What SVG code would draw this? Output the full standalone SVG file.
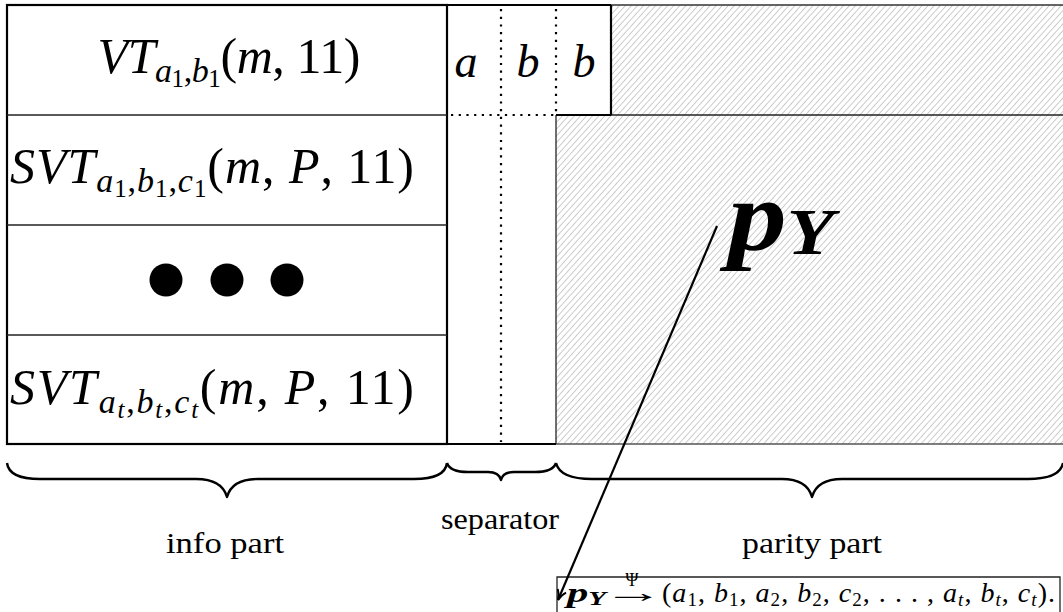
<svg xmlns="http://www.w3.org/2000/svg" width="1063" height="612" viewBox="0 0 1063 612">
<style>
.m{font-family:"Liberation Serif","Times New Roman",serif;fill:#000}
.i{font-style:italic}
.bi{font-style:italic;font-weight:bold}
.thick{stroke:#000;stroke-width:2.2;fill:none}
.thin{stroke:#222;stroke-width:1.3;fill:none}
.dot{stroke:#000;stroke-width:2.2;stroke-dasharray:2.2 5.5;fill:none}
.brace{stroke:#000;stroke-width:2.4;fill:none;stroke-linejoin:round}
.lbl{font-family:"Liberation Serif","Times New Roman",serif;font-size:30px;fill:#000;text-anchor:middle}
</style>
<defs>
<pattern id="hatch" patternUnits="userSpaceOnUse" width="4.5" height="8" patternTransform="rotate(42)">
<line x1="0" y1="-1" x2="0" y2="9" stroke="#9a9a9a" stroke-width="1"/>
</pattern>
<marker id="arr" viewBox="0 0 12 12" refX="11" refY="6" markerWidth="12" markerHeight="12" markerUnits="userSpaceOnUse" orient="auto">
<path d="M1,1.5 Q5,5 11,6 Q5,7 1,10.5" fill="none" stroke="#000" stroke-width="2"/>
</marker>
</defs>
<rect width="1063" height="612" fill="#fff"/>

<g id="parity-region">
<path d="M611,5 H1063 V115 H611 Z M556,115 H1063 V444 H556 Z" fill="url(#hatch)"/>
<line x1="611" y1="5" x2="1063" y2="5" stroke="#333" stroke-width="1.5"/>
<line x1="556" y1="115" x2="1063" y2="115" class="thin"/>
<line x1="556" y1="444" x2="1063" y2="444" stroke="#555" stroke-width="1.5"/>
<line x1="556" y1="115" x2="556" y2="444" class="thin"/>
</g>

<g id="info-part">
<rect x="7" y="5" width="440" height="439" class="thick"/>
<line x1="7" y1="115" x2="447" y2="115" class="thin"/>
<line x1="7" y1="225" x2="447" y2="225" class="thin"/>
<line x1="7" y1="335" x2="447" y2="335" class="thin"/>
</g>

<g id="row-vt">
<text class="m" x="229" y="73" text-anchor="middle" font-size="50" textLength="263" lengthAdjust="spacing"><tspan class="i">VT</tspan><tspan class="i" font-size="34" dy="9">a</tspan><tspan font-size="25" dy="5">1</tspan><tspan font-size="34" dy="-5">,</tspan><tspan class="i" font-size="34">b</tspan><tspan font-size="25" dy="5">1</tspan><tspan dy="-14">(</tspan><tspan class="i">m</tspan><tspan>, 11)</tspan></text>
</g>

<g id="row-svt1">
<text class="m" x="212" y="183" text-anchor="middle" font-size="50" textLength="404" lengthAdjust="spacing"><tspan class="i">SVT</tspan><tspan class="i" font-size="34" dy="9">a</tspan><tspan font-size="25" dy="5">1</tspan><tspan font-size="34" dy="-5">,</tspan><tspan class="i" font-size="34">b</tspan><tspan font-size="25" dy="5">1</tspan><tspan font-size="34" dy="-5">,</tspan><tspan class="i" font-size="34">c</tspan><tspan font-size="25" dy="5">1</tspan><tspan dy="-14">(</tspan><tspan class="i">m</tspan><tspan>, </tspan><tspan class="i">P</tspan><tspan>, 11)</tspan></text>
</g>

<g id="row-dots">
<circle cx="166" cy="280" r="16.5" fill="#000"/>
<circle cx="227" cy="280" r="16.5" fill="#000"/>
<circle cx="287" cy="280" r="16.5" fill="#000"/>
</g>

<g id="row-svtt">
<text class="m" x="212" y="404" text-anchor="middle" font-size="50" textLength="404" lengthAdjust="spacing"><tspan class="i">SVT</tspan><tspan class="i" font-size="34" dy="9">a</tspan><tspan class="i" font-size="25" dy="5">t</tspan><tspan font-size="34" dy="-5">,</tspan><tspan class="i" font-size="34">b</tspan><tspan class="i" font-size="25" dy="5">t</tspan><tspan font-size="34" dy="-5">,</tspan><tspan class="i" font-size="34">c</tspan><tspan class="i" font-size="25" dy="5">t</tspan><tspan dy="-14">(</tspan><tspan class="i">m</tspan><tspan>, </tspan><tspan class="i">P</tspan><tspan>, 11)</tspan></text>
</g>

<g id="separator">
<line x1="447" y1="5" x2="611" y2="5" class="thick"/>
<line x1="611" y1="5" x2="611" y2="115" class="thick"/>
<line x1="556" y1="115" x2="611" y2="115" class="thick"/>
<line x1="447" y1="444" x2="556" y2="444" class="thick"/>
<line x1="501" y1="9" x2="501" y2="442" class="dot"/>
<line x1="556" y1="9" x2="556" y2="113" class="dot"/>
<line x1="451" y1="115" x2="556" y2="115" class="dot"/>
<text class="m i" x="466" y="77" text-anchor="middle" font-size="46">a</text>
<text class="m i" x="528" y="77" text-anchor="middle" font-size="46">b</text>
<text class="m i" x="584" y="77" text-anchor="middle" font-size="46">b</text>
</g>

<g id="py-label">
<text class="m bi" x="728" y="250" font-size="100" textLength="106" lengthAdjust="spacingAndGlyphs">p<tspan font-size="66" dy="4">Y</tspan></text>
</g>

<g id="braces">
<path class="brace" d="M7,463 Q9,479 40,479 L196,479 Q222,479 227,497 Q232,479 258,479 L414,479 Q445,479 447,463"/>
<path class="brace" d="M447,463 Q450,472 468,472 L488,472 Q499,472 501,480 Q503,472 514,472 L535,472 Q553,472 556,463"/>
<path class="brace" d="M556,463 Q560,479 592,479 L782,479 Q807,479 812,497 Q817,479 842,479 L1028,479 Q1060,479 1063,463"/>
<text class="lbl" x="225" y="553" textLength="118" lengthAdjust="spacingAndGlyphs">info part</text>
<text class="lbl" x="500" y="529" textLength="118" lengthAdjust="spacingAndGlyphs">separator</text>
<text class="lbl" x="812" y="553" textLength="140" lengthAdjust="spacingAndGlyphs">parity part</text>
</g>

<g id="mapping-box">
<path d="M557,612 V577 H1060 V612" fill="none" stroke="#222" stroke-width="1.3"/>
<text class="m" x="567" y="602" font-size="28" textLength="39" lengthAdjust="spacingAndGlyphs"><tspan class="bi">p</tspan><tspan class="bi" font-size="19" dy="3">Y</tspan></text>
<text class="m" transform="translate(603,602) scale(2.2,1)" x="0" y="0" font-size="28">→</text>
<text class="m" x="632" y="586" font-size="18" text-anchor="middle">Ψ</text>
<text class="m" x="662" y="602" font-size="28" textLength="393" lengthAdjust="spacing"><tspan>(</tspan><tspan class="i">a</tspan><tspan font-size="19" dy="4">1</tspan><tspan dy="-4">, </tspan><tspan class="i">b</tspan><tspan font-size="19" dy="4">1</tspan><tspan dy="-4">, </tspan><tspan class="i">a</tspan><tspan font-size="19" dy="4">2</tspan><tspan dy="-4">, </tspan><tspan class="i">b</tspan><tspan font-size="19" dy="4">2</tspan><tspan dy="-4">, </tspan><tspan class="i">c</tspan><tspan font-size="19" dy="4">2</tspan><tspan dy="-4">, . . . , </tspan><tspan class="i">a</tspan><tspan class="i" font-size="19" dy="4">t</tspan><tspan dy="-4">, </tspan><tspan class="i">b</tspan><tspan class="i" font-size="19" dy="4">t</tspan><tspan dy="-4">, </tspan><tspan class="i">c</tspan><tspan class="i" font-size="19" dy="4">t</tspan><tspan dy="-4">).</tspan></text>
</g>

<g id="connectors">
<line x1="717" y1="226" x2="558" y2="600" stroke="#000" stroke-width="2.2" marker-end="url(#arr)"/>
</g>
</svg>
